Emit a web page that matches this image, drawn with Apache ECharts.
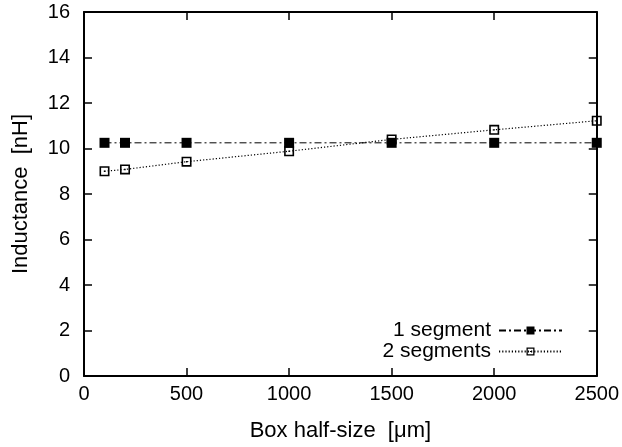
<!DOCTYPE html>
<html>
<head>
<meta charset="utf-8">
<script src="https://cdn.jsdelivr.net/npm/echarts@6/dist/echarts.min.js"></script>
<style>
  html, body { margin: 0; padding: 0; background: #fff; }
  #chart { width: 622px; height: 447px; }
</style>
</head>
<body>
<div id="chart"></div>
<script>
// 数据
const boxSizes = [100, 200, 500, 1000, 1500, 2000, 2500]
const oneSegment = [10.25, 10.25, 10.25, 10.25, 10.25, 10.25, 10.25]
const twoSegments = [9.0, 9.08, 9.42, 9.88, 10.4, 10.82, 11.22]
const seriesNames = ['1 segment', '2 segments']

const font = 'Liberation Sans, Arial, Helvetica, sans-serif'
// 空心方块（中心带点）
const openSquare = 'path://M0,0H10V10H0Z M1.6,1.6V8.4H8.4V1.6Z M4.3,4.3H5.7V5.7H4.3Z'

const pairs = ys => boxSizes.map((x, i) => [x, ys[i]])

const axisLine = { show: true, onZero: false, lineStyle: { color: '#000', width: 2 } }
const axisTick = { show: true, inside: true, length: 8, lineStyle: { color: '#000', width: 1.5 } }

const chart = echarts.init(document.getElementById('chart'))
chart.setOption({
  animation: false,
  backgroundColor: '#fff',
  textStyle: { fontFamily: font },
  grid: { left: 84, right: 23, top: 12, bottom: 71 },
  legend: {
    orient: 'vertical',
    right: 54,
    top: 315,
    align: 'right',
    itemWidth: 63,
    itemHeight: 10,
    itemGap: 0,
    textStyle: { fontSize: 21, lineHeight: 20, color: '#000', fontFamily: font, padding: [0, 3, 0, 0] },
    data: seriesNames,
  },
  xAxis: [{
    type: 'value',
    min: 0,
    max: 2500,
    interval: 500,
    name: 'Box half-size  [μm]',
    nameLocation: 'middle',
    nameGap: 44,
    nameTextStyle: { fontSize: 22, color: '#000', fontFamily: font },
    axisLine,
    axisTick,
    axisLabel: { color: '#000', fontSize: 20, margin: 8, fontFamily: font, formatter: v => String(v) },
    splitLine: { show: false },
  }, {
    type: 'value',
    position: 'top',
    min: 0,
    max: 2500,
    interval: 500,
    axisLine,
    axisTick,
    axisLabel: { show: false },
    splitLine: { show: false },
  }],
  yAxis: [{
    type: 'value',
    min: 0,
    max: 16,
    interval: 2,
    name: 'Inductance  [nH]',
    nameLocation: 'middle',
    nameGap: 52,
    nameTextStyle: { fontSize: 22, color: '#000', fontFamily: font },
    axisLine,
    axisTick,
    axisLabel: { color: '#000', fontSize: 20, margin: 14, fontFamily: font },
    splitLine: { show: false },
  }, {
    type: 'value',
    position: 'right',
    min: 0,
    max: 16,
    interval: 2,
    axisLine,
    axisTick,
    axisLabel: { show: false },
    splitLine: { show: false },
  }],
  series: [{
    name: seriesNames[0],
    type: 'line',
    data: pairs(oneSegment),
    symbol: 'rect',
    symbolSize: 10,
    itemStyle: { color: '#000' },
    lineStyle: { color: '#000', width: 1, type: [7, 3, 2, 3] },
  }, {
    name: seriesNames[1],
    type: 'line',
    data: pairs(twoSegments),
    symbol: openSquare,
    symbolSize: 10,
    itemStyle: { color: '#000' },
    lineStyle: { color: '#000', width: 1.2, type: [1.2, 2] },
  }],
})
</script>
</body>
</html>
